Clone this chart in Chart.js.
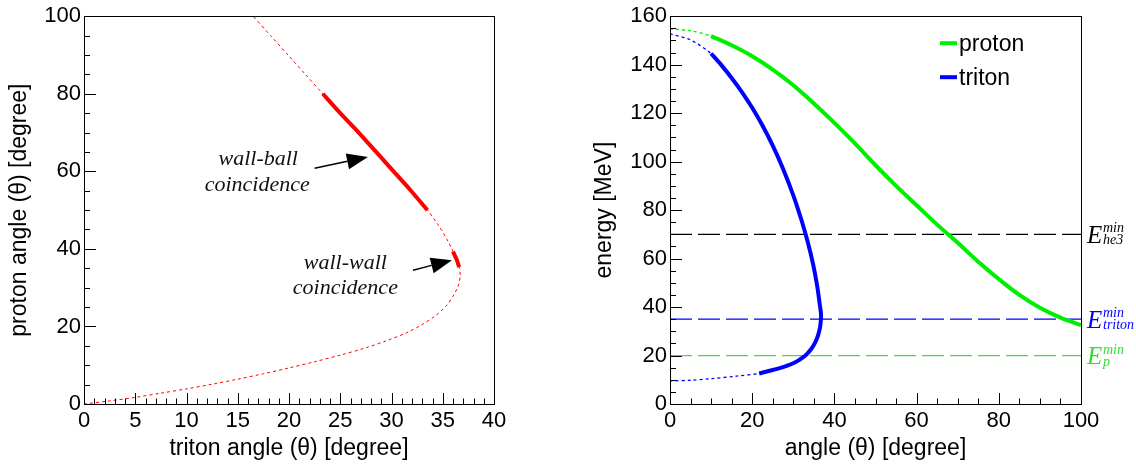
<!DOCTYPE html>
<html>
<head>
<meta charset="utf-8">
<script src="https://cdn.jsdelivr.net/npm/chart.js@4"></script>
<style>
  html, body { margin: 0; padding: 0; background: #fff; }
  #wrap { position: relative; width: 1136px; height: 465px; }
  #left { position: absolute; left: 0; top: 0; }
  #right { position: absolute; left: 560px; top: 0; }
</style>
</head>
<body>
<div id="wrap">
  <canvas id="left" width="560" height="465"></canvas>
  <canvas id="right" width="576" height="465"></canvas>
</div>
<script>
// left panel: proton angle vs triton angle (path order along the curve)
const tritonAngle = [0, 2.5, 5, 7.5, 10, 12.5, 15, 17.5, 20, 22.5, 25, 27.5, 29.5, 31.5, 33, 34.3, 35.3, 36.0, 36.5, 36.7,
  36.6, 36.35, 36.0, 35.4, 34.6, 33.5, 31.9, 30.2, 28.5, 26.8, 25.0, 23.3, 21.6, 19.9, 18.2, 16.5];
const protonAngle = [0, 0.8, 1.7, 2.8, 3.9, 5.1, 6.4, 7.8, 9.3, 10.9, 12.6, 14.5, 16.3, 18.4, 20.5, 22.8, 25.2, 27.8, 30.4, 33,
  35.3, 37.3, 39.3, 42.5, 46, 50, 55, 60, 65, 70, 75, 80, 85, 90, 95, 100];
const wallBall = [50, 80];   // proton angle range
const wallWall = [35.3, 39.3];

// right panel: energy vs angle
const protonTheta = [0, 5, 10, 15, 20, 25, 30, 35, 40, 45, 50, 55, 60, 65, 70, 75, 80, 85, 90, 95, 100];
const protonE = [154.8, 154, 151.8, 148, 143.5, 138, 131.5, 124, 116, 107.5, 98.5, 90, 82, 74, 66.5, 58.7, 51.5, 45, 39.7, 35.6, 32.5];
const protonFrom = 10;
const tritonTheta = [0, 5, 10, 12.5, 15, 17.5, 20, 22.5, 25, 27.5, 30, 32, 33.5, 34.8, 35.8, 36.4, 36.75,
  36.7, 36.5, 36, 35.3, 34.4, 33.3, 32, 30.5, 28.7, 26.5, 24, 21.7, 16.2, 9.7, 5, 0];
const tritonE = [152.7, 150.2, 144.6, 139.8, 134.5, 128.7, 122.2, 114.9, 106.6, 97.1, 86.1, 75.8, 66.9, 57.8, 48.8, 41.6, 37,
  34.5, 31.5, 28.2, 25.3, 22.8, 20.6, 18.8, 17.2, 15.9, 14.7, 13.6, 12.6, 11.5, 10.4, 9.8, 9.5];
const tritonRange = [12.6, 144.6];
const thresholds = [70, 35, 20];
const thresholdSub = ['he3', 'triton', 'p'];
const thresholdColors = ['#000000', '#0000ff', '#44dd44'];
const thresholdText = ['#000000', '#0000ff', '#33dd33'];

Chart.defaults.font.family = "'Liberation Sans', Arial, sans-serif";
Chart.defaults.color = '#000';

const pts = (xs, ys) => xs.map((x, i) => ({x: x, y: ys[i]}));

function rootTicks(scale, area, minor, major, horiz, lMaj, lMin, ctx) {
  const n = Math.round((scale.max - scale.min) / minor);
  for (let i = 0; i <= n; i++) {
    const v = scale.min + i * minor;
    const isMaj = Math.abs(v / major - Math.round(v / major)) < 1e-6;
    const len = isMaj ? lMaj : lMin;
    const p = Math.round(scale.getPixelForValue(v)) + 0.5;
    ctx.beginPath();
    if (horiz) { ctx.moveTo(p, area.bottom); ctx.lineTo(p, area.bottom - len); }
    else { ctx.moveTo(area.left, p); ctx.lineTo(area.left + len, p); }
    ctx.stroke();
  }
}

const rootFrame = {
  id: 'rootFrame',
  afterDatasetsDraw(chart, args, o) {
    const {ctx, chartArea: a, scales} = chart;
    ctx.save();
    ctx.strokeStyle = '#000';
    ctx.lineWidth = 1;
    ctx.strokeRect(Math.round(a.left) + 0.5, Math.round(a.top) + 0.5, Math.round(a.right - a.left), Math.round(a.bottom - a.top));
    rootTicks(scales.x, a, o.xMinor, o.xMajor, true, 11, 5.5, ctx);
    rootTicks(scales.y, a, o.yMinor, o.yMajor, false, 12, 6, ctx);
    ctx.restore();
  }
};

function arrow(ctx, x1, y1, x2, y2) {
  const ang = Math.atan2(y2 - y1, x2 - x1), L = 21, W = 8;
  const bx = x2 - L * Math.cos(ang), by = y2 - L * Math.sin(ang);
  ctx.beginPath(); ctx.moveTo(x1, y1); ctx.lineTo(bx, by); ctx.stroke();
  ctx.beginPath();
  ctx.moveTo(x2, y2);
  ctx.lineTo(bx + W * Math.sin(ang), by - W * Math.cos(ang));
  ctx.lineTo(bx - W * Math.sin(ang), by + W * Math.cos(ang));
  ctx.closePath(); ctx.fill();
}

const notes = {
  id: 'notes',
  afterDraw(chart) {
    const {ctx, scales: {x, y}} = chart;
    ctx.save();
    ctx.fillStyle = '#111'; ctx.strokeStyle = '#000'; ctx.lineWidth = 1.4;
    ctx.font = "italic 22px 'Liberation Serif', serif";
    ctx.textAlign = 'center'; ctx.textBaseline = 'alphabetic';
    ctx.fillText('wall-ball', x.getPixelForValue(17.0), y.getPixelForValue(61.6));
    ctx.fillText('coincidence', x.getPixelForValue(16.9), y.getPixelForValue(54.9));
    ctx.fillText('wall-wall', x.getPixelForValue(25.5), y.getPixelForValue(34.8));
    ctx.fillText('coincidence', x.getPixelForValue(25.5), y.getPixelForValue(28.4));
    ctx.fillStyle = '#000';
    arrow(ctx, x.getPixelForValue(22.5), y.getPixelForValue(60.8), x.getPixelForValue(27.7), y.getPixelForValue(63.7));
    arrow(ctx, x.getPixelForValue(32.1), y.getPixelForValue(34.5), x.getPixelForValue(35.9), y.getPixelForValue(37.1));
    ctx.restore();
  }
};

const eLabels = {
  id: 'eLabels',
  afterDraw(chart) {
    const {ctx, chartArea: a, scales: {y}} = chart;
    ctx.save();
    ctx.textAlign = 'left'; ctx.textBaseline = 'alphabetic';
    thresholds.forEach((t, i) => {
      const py = y.getPixelForValue(t);
      const x0 = a.right + 6;
      ctx.fillStyle = thresholdText[i];
      ctx.font = "italic 25px 'Liberation Serif', serif";
      ctx.fillText('E', x0, py + 8.5);
      ctx.font = "italic 14px 'Liberation Serif', serif";
      ctx.fillText('min', x0 + 16, py - 2);
      ctx.fillText(thresholdSub[i], x0 + 16, py + 10);
    });
    // legend
    const items = [['proton', '#00ee00'], ['triton', '#0000ff']];
    ctx.font = "23px 'Liberation Sans', Arial, sans-serif";
    ctx.textBaseline = 'middle';
    items.forEach((it, i) => {
      const ly = a.top + 27 + i * 34;
      ctx.strokeStyle = it[1]; ctx.lineWidth = 4;
      ctx.beginPath(); ctx.moveTo(a.left + 270, ly); ctx.lineTo(a.left + 287, ly); ctx.stroke();
      ctx.fillStyle = '#000';
      ctx.fillText(it[0], a.left + 289, ly + 1);
    });
    ctx.restore();
  }
};

function axis(min, max, step, title, pad, fixed, horiz) {
  return {
    type: 'linear', min: min, max: max,
    grid: {display: false, drawTicks: false},
    border: {display: false},
    ticks: {stepSize: step, padding: horiz ? 4 : 3, font: {size: 22}, color: '#000'},
    title: {display: true, text: title, font: {size: 23}, color: '#000',
      padding: horiz ? {bottom: pad, top: 0} : {top: pad, bottom: 0}},
    afterFit: s => { if (horiz) s.height = fixed; else s.width = fixed; }
  };
}

const common = {
  responsive: false, animation: false,
  plugins: {legend: {display: false}, tooltip: {enabled: false}}
};

const leftCurve = pts(tritonAngle, protonAngle);
new Chart(document.getElementById('left'), {
  type: 'scatter',
  data: {
    datasets: [
      {data: leftCurve.filter(p => p.y >= wallBall[0] && p.y <= wallBall[1]), showLine: true, borderColor: '#ff0000', borderWidth: 4, pointRadius: 0, tension: 0.3},
      {data: leftCurve.filter(p => p.y >= wallWall[0] && p.y <= wallWall[1]), showLine: true, borderColor: '#ff0000', borderWidth: 4, pointRadius: 0, tension: 0.3},
      {data: leftCurve, showLine: true, borderColor: '#ff0000', borderWidth: 1, borderDash: [3, 3], pointRadius: 0, tension: 0.3}
    ]
  },
  options: Object.assign({}, common, {
    layout: {padding: {left: 0, top: 16, right: 66, bottom: 0}},
    scales: {
      x: axis(0, 40, 5, 'triton angle (\u03b8) [degree]', 3, 61, true),
      y: axis(0, 100, 20, 'proton angle (\u03b8) [degree]', 6, 84, false)
    },
    plugins: Object.assign({}, common.plugins, {rootFrame: {xMinor: 1, xMajor: 5, yMinor: 5, yMajor: 20}})
  }),
  plugins: [rootFrame, notes]
});

const protonCurve = pts(protonTheta, protonE);
const tritonCurve = pts(tritonTheta, tritonE);
const thresholdSets = thresholds.map((t, i) => ({
  data: [{x: 0, y: t}, {x: 100, y: t}], showLine: true, borderColor: thresholdColors[i],
  borderWidth: 1.2, borderDash: [22, 6], pointRadius: 0
}));
new Chart(document.getElementById('right'), {
  type: 'scatter',
  data: {
    datasets: [
      {data: protonCurve.filter(p => p.x >= protonFrom), showLine: true, borderColor: '#00ee00', borderWidth: 4, pointRadius: 0, tension: 0.3},
      {data: tritonCurve.filter(p => p.y >= tritonRange[0] && p.y <= tritonRange[1]), showLine: true, borderColor: '#0000ff', borderWidth: 4, pointRadius: 0, tension: 0.3},
      {data: protonCurve, showLine: true, borderColor: '#00ee00', borderWidth: 1.3, borderDash: [3, 3], pointRadius: 0, tension: 0.3},
      {data: tritonCurve, showLine: true, borderColor: '#0000ff', borderWidth: 1.3, borderDash: [3, 3], pointRadius: 0, tension: 0.3}
    ].concat(thresholdSets)
  },
  options: Object.assign({}, common, {
    layout: {padding: {left: 0, top: 16, right: 55, bottom: 0}},
    scales: {
      x: axis(0, 100, 20, 'angle (\u03b8) [degree]', 3, 61, true),
      y: axis(0, 160, 20, 'energy [MeV]', 31, 110, false)
    },
    plugins: Object.assign({}, common.plugins, {rootFrame: {xMinor: 5, xMajor: 20, yMinor: 5, yMajor: 20}})
  }),
  plugins: [rootFrame, eLabels]
});
</script>
</body>
</html>
